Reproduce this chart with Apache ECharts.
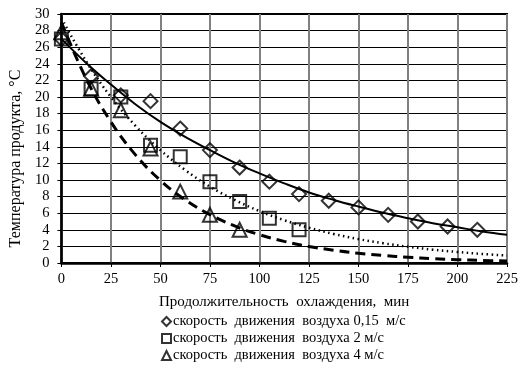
<!DOCTYPE html>
<html>
<head>
<meta charset="utf-8">
<script src="https://cdn.jsdelivr.net/npm/echarts@6/dist/echarts.min.js"></script>
<style>html,body{margin:0;padding:0;background:#fff}#c{width:528px;height:374px}</style>
</head>
<body>
<div id="c"></div>
<script>
// Measured points (minutes, °C)
const timeMarks = [0, 15, 30, 45, 60, 75, 90, 105, 120, 135, 150, 165, 180, 195, 210];
const temp015 = [27.0, 22.5, 20.2, 19.5, 16.2, 13.6, 11.5, 9.8, 8.3, 7.5, 6.7, 5.8, 5.0, 4.4, 4.0];
const temp2   = [27.0, 21.0, 20.0, 14.2, 12.8, 9.8, 7.4, 5.4, 4.0];
const temp4   = [27.8, 21.0, 18.4, 13.8, 8.6, 5.8, 4.0];

// Trend curves
const trendX     = [0, 12.5, 25, 37.5, 50, 62.5, 75, 87.5, 100, 112.5, 125, 137.5, 150, 162.5, 175, 187.5, 200, 212.5, 225];
const trend015   = [27.0, 24.1, 21.5, 19.1, 17.0, 15.2, 13.6, 12.1, 10.8, 9.6, 8.5, 7.6, 6.8, 6.05, 5.4, 4.8, 4.3, 3.8, 3.4];
const trend2     = [29.5, 24.3, 20.0, 16.5, 13.6, 11.2, 9.2, 7.6, 6.26, 5.16, 4.25, 3.5, 2.88, 2.38, 1.96, 1.61, 1.33, 1.09, 0.9];
const trend4     = [29.0, 22.2, 17.0, 13.0, 9.95, 7.6, 5.83, 4.46, 3.41, 2.61, 2.0, 1.53, 1.17, 0.9, 0.69, 0.52, 0.4, 0.31, 0.24];

const xTicks = [0, 25, 50, 75, 100, 125, 150, 175, 200, 225];
const yTicks = [0, 2, 4, 6, 8, 10, 12, 14, 16, 18, 20, 22, 24, 26, 28, 30];

const names = ['скорость  движения  воздуха 0,15  м/с', 'скорость  движения  воздуха 2 м/с', 'скорость  движения  воздуха 4 м/с'];
const font = 'Liberation Serif, Times New Roman, serif';

const pair = (xs, ys) => ys.map((y, i) => [xs[i], y]);

const markerStyle = {color: 'rgba(0,0,0,0)', borderColor: '#000', borderWidth: 2};

const chart = echarts.init(document.getElementById('c'), null, {renderer: 'canvas'});
chart.setOption({
  animation: false,
  backgroundColor: '#fff',
  textStyle: {fontFamily: font},
  grid: {left: 61, right: 21, top: 14, bottom: 111, show: true, borderColor: '#000', borderWidth: 2, backgroundColor: 'transparent'},
  xAxis: {
    type: 'value', min: xTicks[0], max: xTicks[xTicks.length - 1], interval: 25,
    name: 'Продолжительность  охлаждения,  мин', nameLocation: 'middle', nameGap: 32,
    nameTextStyle: {color: '#000', fontSize: 15, fontFamily: font},
    axisLine: {show: true, lineStyle: {color: '#000', width: 2.5}},
    axisTick: {show: true, length: 4, lineStyle: {color: '#000', width: 1}},
    axisLabel: {color: '#000', fontSize: 14.5, fontFamily: font, margin: 9},
    splitLine: {show: true, lineStyle: {color: '#808080', width: 2}}
  },
  yAxis: {
    type: 'value', min: yTicks[0], max: yTicks[yTicks.length - 1], interval: 2,
    name: 'Температура продукта, °С', nameLocation: 'middle', nameGap: 33,
    nameTextStyle: {color: '#000', fontSize: 16, fontFamily: font, padding: [0, 40, 0, 0]},
    axisLine: {show: true, lineStyle: {color: '#000', width: 2.5}},
    axisTick: {show: true, length: 4, lineStyle: {color: '#000', width: 1}},
    axisLabel: {color: '#000', fontSize: 14.5, fontFamily: font, margin: 12},
    splitLine: {show: true, lineStyle: {color: '#000', width: 1}}
  },
  legend: {
    data: names, orient: 'vertical', left: 156, top: 309, itemWidth: 9, itemHeight: 9, itemGap: 2,
    textStyle: {color: '#000', fontSize: 14.5, fontFamily: font, padding: [0, 0, 0, -3]},
    itemStyle: {borderWidth: 2}
  },
  series: [
    {name: names[0], type: 'scatter', symbol: 'diamond', symbolSize: 14, data: pair(timeMarks, temp015), itemStyle: markerStyle, z: 3},
    {name: names[1], type: 'scatter', symbol: 'rect', symbolSize: 13, data: pair(timeMarks, temp2), itemStyle: markerStyle, z: 3},
    {name: names[2], type: 'scatter', symbol: 'triangle', symbolSize: 14, data: pair(timeMarks, temp4), itemStyle: markerStyle, z: 3},
    {type: 'line', data: pair(trendX, trend015), smooth: 0.4, showSymbol: false, lineStyle: {color: '#000', width: 2, type: 'solid'}, z: 4},
    {type: 'line', data: pair(trendX, trend2), smooth: 0.4, showSymbol: false, lineStyle: {color: '#000', width: 2.5, type: [1.5, 3.5]}, z: 4},
    {type: 'line', data: pair(trendX, trend4), smooth: 0.4, showSymbol: false, lineStyle: {color: '#000', width: 3, type: [10, 6]}, z: 4}
  ]
});
</script>
</body>
</html>
